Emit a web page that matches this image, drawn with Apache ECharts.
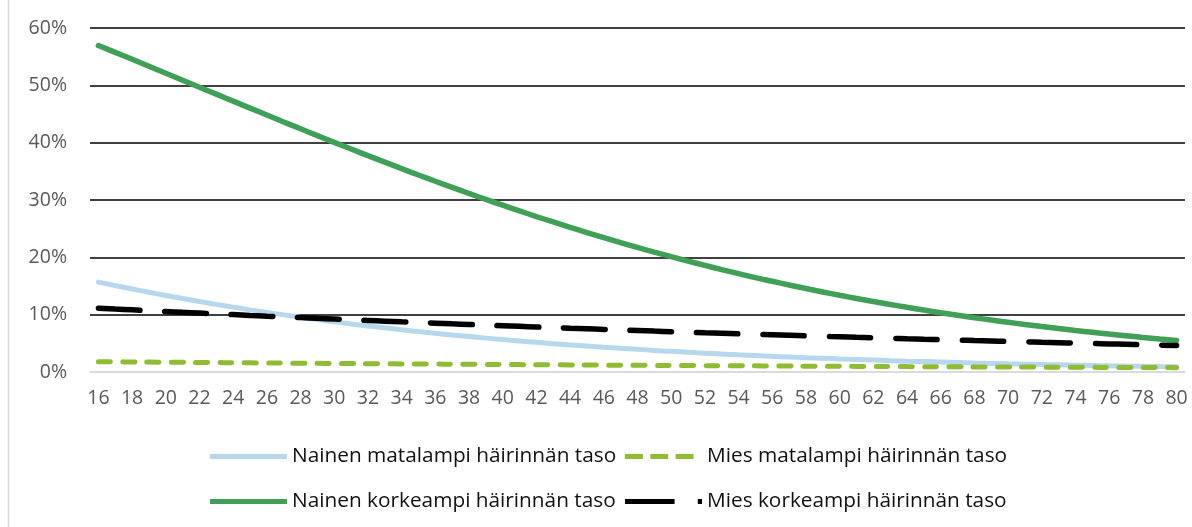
<!DOCTYPE html>
<html>
<head>
<meta charset="utf-8">
<script src="https://cdn.jsdelivr.net/npm/echarts@6/dist/echarts.min.js"></script>
<style>
  html, body { margin: 0; padding: 0; background: #fff; }
  #chart { width: 1192px; height: 527px; }
</style>
</head>
<body>
<div id="chart"></div>
<script>
// ikä (vuotta)
const ages = [16, 17, 18, 19, 20, 21, 22, 23, 24, 25, 26, 27, 28, 29, 30, 31, 32, 33, 34, 35,
  36, 37, 38, 39, 40, 41, 42, 43, 44, 45, 46, 47, 48, 49, 50, 51, 52, 53, 54, 55,
  56, 57, 58, 59, 60, 61, 62, 63, 64, 65, 66, 67, 68, 69, 70, 71, 72, 73, 74, 75,
  76, 77, 78, 79, 80];

// osuudet prosentteina
const nainenMatala = [15.68, 15.07, 14.48, 13.90, 13.35, 12.81, 12.29, 11.79, 11.31, 10.84, 10.40, 9.96, 9.55, 9.15, 8.76, 8.39, 8.04, 7.70, 7.37, 7.05,
  6.75, 6.46, 6.18, 5.91, 5.65, 5.41, 5.17, 4.94, 4.73, 4.52, 4.32, 4.13, 3.95, 3.77, 3.60, 3.44, 3.29, 3.14, 3.00, 2.87,
  2.74, 2.62, 2.50, 2.39, 2.28, 2.18, 2.08, 1.98, 1.89, 1.81, 1.73, 1.65, 1.57, 1.50, 1.43, 1.37, 1.31, 1.25, 1.19, 1.14,
  1.08, 1.03, 0.99, 0.94, 0.90];

const miesMatala = [1.80, 1.78, 1.75, 1.73, 1.71, 1.68, 1.66, 1.64, 1.62, 1.60, 1.57, 1.55, 1.53, 1.51, 1.49, 1.47, 1.45, 1.43, 1.41, 1.39,
  1.38, 1.36, 1.34, 1.32, 1.30, 1.29, 1.27, 1.25, 1.24, 1.22, 1.20, 1.19, 1.17, 1.15, 1.14, 1.12, 1.11, 1.09, 1.08, 1.07,
  1.05, 1.04, 1.02, 1.01, 1.00, 0.98, 0.97, 0.96, 0.94, 0.93, 0.92, 0.91, 0.89, 0.88, 0.87, 0.86, 0.85, 0.84, 0.82, 0.81,
  0.80, 0.79, 0.78, 0.77, 0.76];

const nainenKorkea = [56.95, 55.75, 54.55, 53.34, 52.12, 50.90, 49.68, 48.46, 47.24, 46.03, 44.82, 43.61, 42.42, 41.23, 40.05, 38.89, 37.74, 36.60, 35.47, 34.36,
  33.27, 32.20, 31.14, 30.10, 29.09, 28.09, 27.12, 26.17, 25.23, 24.32, 23.44, 22.57, 21.73, 20.91, 20.11, 19.34, 18.59, 17.86, 17.16, 16.47,
  15.82, 15.18, 14.56, 13.96, 13.38, 12.83, 12.29, 11.78, 11.28, 10.80, 10.34, 9.90, 9.47, 9.06, 8.67, 8.29, 7.92, 7.58, 7.24, 6.92,
  6.61, 6.32, 6.03, 5.76, 5.50];

const miesKorkea = [11.12, 10.98, 10.84, 10.69, 10.55, 10.41, 10.28, 10.14, 10.01, 9.87, 9.74, 9.62, 9.49, 9.36, 9.24, 9.11, 8.99, 8.87, 8.75, 8.64,
  8.52, 8.40, 8.29, 8.18, 8.07, 7.96, 7.85, 7.75, 7.64, 7.54, 7.43, 7.33, 7.23, 7.13, 7.04, 6.94, 6.84, 6.75, 6.66, 6.57,
  6.48, 6.39, 6.30, 6.21, 6.13, 6.04, 5.96, 5.88, 5.79, 5.71, 5.64, 5.56, 5.48, 5.41, 5.33, 5.26, 5.18, 5.11, 5.04, 4.97,
  4.90, 4.83, 4.76, 4.69, 4.63];

const yTicks = [0, 10, 20, 30, 40, 50, 60];

const chart = echarts.init(document.getElementById('chart'));

const font = "'Open Sans', sans-serif";

// legend icons, 77 x 5 boxes
const iconSolid = 'path://M0,0h77v5h-77z';
const iconShortDash = 'path://M4,0h17v5h-17z M28,0h17v5h-17z M52,0h17v5h-17z M77,0v5z';
const iconLongDash = 'path://M4,0h47v5h-47z M73,0h4v5h-4z';

function legendItem(name, icon, left, top) {
  return {
    left: left,
    top: top,
    data: [{ name: name, icon: icon }],
    itemWidth: 77,
    itemHeight: 5,
    symbolKeepAspect: false,
    selectedMode: false,
    textStyle: { fontFamily: font, fontSize: 20.8, color: '#111' }
  };
}

chart.setOption({
  animation: false,
  grid: { left: 90, right: 7, top: 28, bottom: 155 },
  graphic: [{
    type: 'line',
    shape: { x1: 8.5, y1: 0, x2: 8.5, y2: 527 },
    style: { stroke: '#d9d9d9', lineWidth: 1.5 }
  }],
  legend: [
    legendItem('Nainen matalampi häirinnän taso', iconSolid, 205, 441),
    legendItem('Mies matalampi häirinnän taso', iconShortDash, 620, 441),
    legendItem('Nainen korkeampi häirinnän taso', iconSolid, 205, 486),
    legendItem('Mies korkeampi häirinnän taso', iconLongDash, 620, 486)
  ],
  xAxis: {
    type: 'category',
    data: ages,
    boundaryGap: true,
    axisTick: { show: false },
    axisLine: { lineStyle: { color: '#d9d9d9', width: 1.5 } },
    axisLabel: { interval: 1, margin: 16, fontFamily: font, fontSize: 19.5, color: '#595959' }
  },
  yAxis: {
    type: 'value',
    min: yTicks[0],
    max: yTicks[yTicks.length - 1],
    interval: 10,
    axisLine: { show: false },
    axisTick: { show: false },
    axisLabel: { margin: 23, formatter: '{value}%', fontFamily: font, fontSize: 19.5, color: '#595959' },
    splitLine: {
      lineStyle: { color: ['#d9d9d9', '#000', '#000', '#000', '#000', '#000', '#000'], width: 1.5 }
    }
  },
  series: [
    {
      name: 'Nainen matalampi häirinnän taso',
      type: 'line',
      data: nainenMatala,
      symbol: 'none',
      smooth: true,
      lineStyle: { color: '#b6d7ee', width: 5, cap: 'round' },
      itemStyle: { color: '#b6d7ee' }
    },
    {
      name: 'Mies matalampi häirinnän taso',
      type: 'line',
      data: miesMatala,
      symbol: 'none',
      smooth: true,
      lineStyle: { color: '#8fbc33', width: 5, type: [12, 12.3], cap: 'round' },
      itemStyle: { color: '#8fbc33' }
    },
    {
      name: 'Nainen korkeampi häirinnän taso',
      type: 'line',
      data: nainenKorkea,
      symbol: 'none',
      smooth: true,
      lineStyle: { color: '#40a057', width: 5.5, cap: 'round' },
      itemStyle: { color: '#40a057' }
    },
    {
      name: 'Mies korkeampi häirinnän taso',
      type: 'line',
      data: miesKorkea,
      symbol: 'none',
      smooth: true,
      lineStyle: { color: '#000', width: 5.5, type: [41.5, 25], cap: 'round' },
      itemStyle: { color: '#000' }
    }
  ]
});
</script>
</body>
</html>
